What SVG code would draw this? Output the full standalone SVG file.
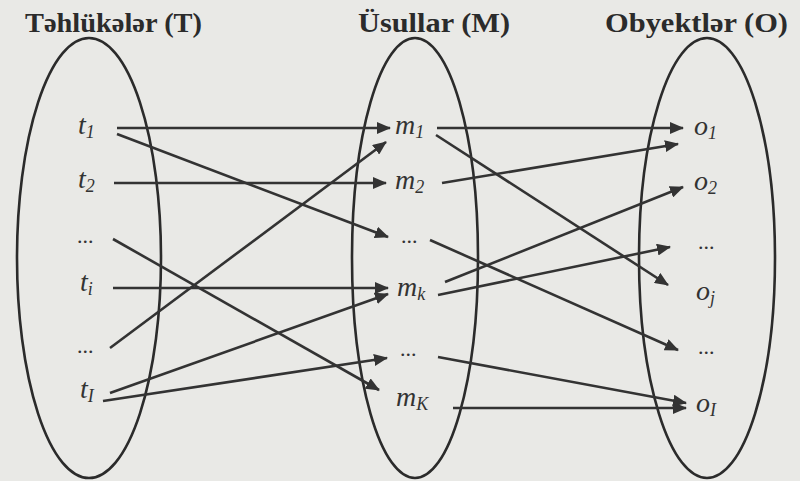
<svg xmlns="http://www.w3.org/2000/svg" width="800" height="481" viewBox="0 0 800 481">
<style>
.bg{fill:#e9e9e6}
.set{fill:none;stroke:#2b2b2b;stroke-width:2.6}
.title{font-family:'Liberation Serif',serif;font-weight:bold;font-size:28px;fill:#2b2b2b}
.lbl{font-family:'Liberation Serif',serif;font-style:italic;font-size:28px;fill:#333}
.sub{font-size:18px}
.dots{font-family:'Liberation Serif',serif;font-size:22px;fill:#333}
.edge{stroke:#333;stroke-width:2.6;fill:none;marker-end:url(#arr)}
</style>
<defs>
<marker id="arr" markerUnits="userSpaceOnUse" markerWidth="14" markerHeight="12" refX="13" refY="6" orient="auto">
<path d="M0,0 L14,6 L0,12 Z" fill="#333"/>
</marker>
</defs>
<rect class="bg" x="0" y="0" width="800" height="481"/>

<g id="set-T">
<ellipse class="set" cx="89" cy="258" rx="72" ry="220"/>
<text class="title" x="25" y="32" textLength="177" lengthAdjust="spacingAndGlyphs">Təhlükələr (T)</text>
</g>
<g id="set-M">
<ellipse class="set" cx="415" cy="258" rx="63" ry="220"/>
<text class="title" x="358" y="32" textLength="152" lengthAdjust="spacingAndGlyphs">Üsullar (M)</text>
</g>
<g id="set-O">
<ellipse class="set" cx="707" cy="258" rx="68" ry="220"/>
<text class="title" x="605" y="32" textLength="183" lengthAdjust="spacingAndGlyphs">Obyektlər (O)</text>
</g>

<g id="node-t1"><text class="lbl" x="78" y="134">t<tspan class="sub" dy="4">1</tspan></text></g>
<g id="node-t2"><text class="lbl" x="78" y="188">t<tspan class="sub" dy="4">2</tspan></text></g>
<g id="node-tdots1"><text class="dots" x="77" y="243">...</text></g>
<g id="node-ti"><text class="lbl" x="80" y="291">t<tspan class="sub" dy="4">i</tspan></text></g>
<g id="node-tdots2"><text class="dots" x="77" y="353">...</text></g>
<g id="node-tI"><text class="lbl" x="80" y="398">t<tspan class="sub" dy="4">I</tspan></text></g>

<g id="node-m1"><text class="lbl" x="395" y="134">m<tspan class="sub" dy="4">1</tspan></text></g>
<g id="node-m2"><text class="lbl" x="395" y="189">m<tspan class="sub" dy="4">2</tspan></text></g>
<g id="node-mdots1"><text class="dots" x="401" y="243">...</text></g>
<g id="node-mk"><text class="lbl" x="397" y="296">m<tspan class="sub" dy="4">k</tspan></text></g>
<g id="node-mdots2"><text class="dots" x="400" y="356">...</text></g>
<g id="node-mK"><text class="lbl" x="396" y="406">m<tspan class="sub" dy="4">K</tspan></text></g>

<g id="node-o1"><text class="lbl" x="694" y="135">o<tspan class="sub" dy="4">1</tspan></text></g>
<g id="node-o2"><text class="lbl" x="694" y="190">o<tspan class="sub" dy="4">2</tspan></text></g>
<g id="node-odots1"><text class="dots" x="698" y="249">...</text></g>
<g id="node-oj"><text class="lbl" x="696" y="300">o<tspan class="sub" dy="4">j</tspan></text></g>
<g id="node-odots2"><text class="dots" x="698" y="354">...</text></g>
<g id="node-oI"><text class="lbl" x="696" y="412">o<tspan class="sub" dy="4">I</tspan></text></g>

<g id="connectors">
<line class="edge" x1="117" y1="128" x2="390" y2="128"/>
<line class="edge" x1="117" y1="134" x2="388" y2="237"/>
<line class="edge" x1="114" y1="183" x2="386" y2="183"/>
<line class="edge" x1="113" y1="239" x2="379" y2="390"/>
<line class="edge" x1="113" y1="288" x2="388" y2="288"/>
<line class="edge" x1="110" y1="348" x2="386" y2="142"/>
<line class="edge" x1="110" y1="393" x2="388" y2="294"/>
<line class="edge" x1="103" y1="401" x2="387" y2="358"/>
<line class="edge" x1="437" y1="128" x2="683" y2="128"/>
<line class="edge" x1="436" y1="135" x2="668" y2="285"/>
<line class="edge" x1="442" y1="183" x2="678" y2="144"/>
<line class="edge" x1="430" y1="240" x2="678" y2="350"/>
<line class="edge" x1="445" y1="282" x2="683" y2="187"/>
<line class="edge" x1="438" y1="295" x2="670" y2="247"/>
<line class="edge" x1="438" y1="357" x2="686" y2="403"/>
<line class="edge" x1="453" y1="408" x2="686" y2="408"/>
</g>
</svg>
